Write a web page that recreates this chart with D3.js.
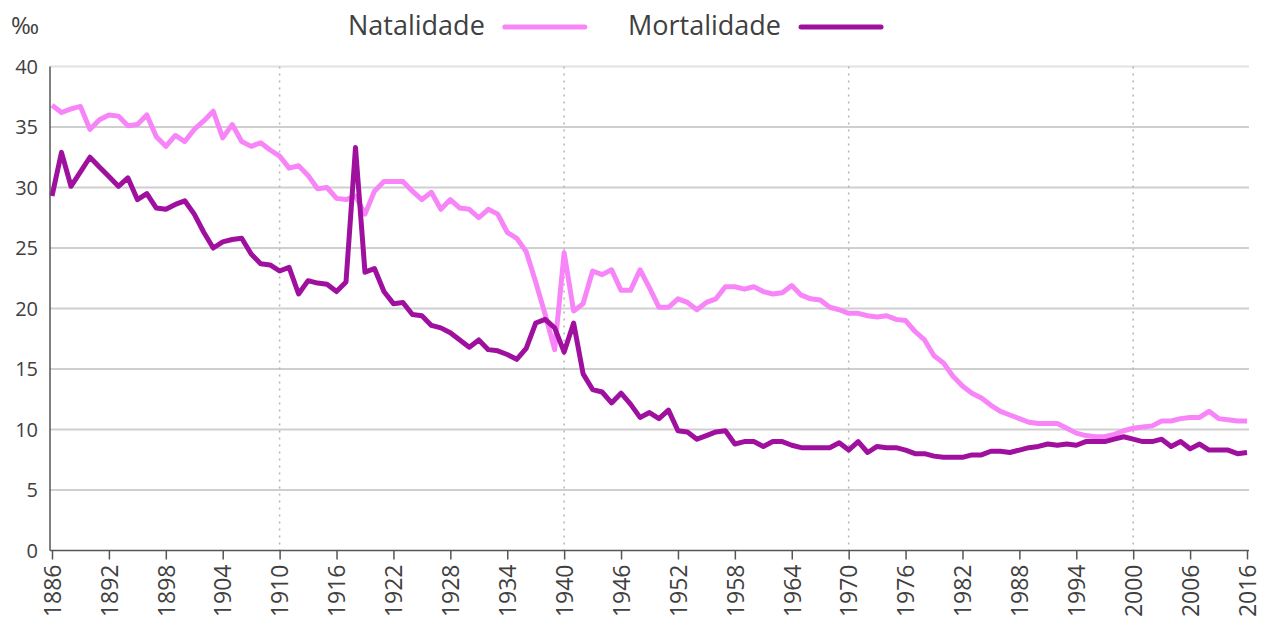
<!DOCTYPE html>
<meta charset="utf-8">
<style>
body { margin: 0; background: #fff; }
svg { font-family: "Open Sans", "Noto Sans", sans-serif; }
.grid line { stroke: #cfcfcf; stroke-width: 2; }
.vgrid line { stroke: #b5b5b5; stroke-width: 1.5; stroke-dasharray: 2 5; }
.lbl { fill: #404040; }
</style>
<svg id="chart" width="1262" height="627"></svg>
<script src="https://cdnjs.cloudflare.com/ajax/libs/d3/7.8.5/d3.min.js"></script>
<script>
// years shown on the axis (last point is 2016)
var years = d3.range(1886, 2012).concat([2016]);
var tickYears = [1886, 1892, 1898, 1904, 1910, 1916, 1922, 1928, 1934, 1940, 1946, 1952,
  1958, 1964, 1970, 1976, 1982, 1988, 1994, 2000, 2006, 2016];
var dottedYears = [1910, 1940, 1970, 2000];
var yTicks = [0, 5, 10, 15, 20, 25, 30, 35, 40];

// per mille
var natalidade = [
  36.8, 36.2, 36.5, 36.7, 34.8, 35.6, 36.0, 35.9, 35.1, 35.2, 36.0, 34.2, 33.4, 34.3, 33.8,
  34.8, 35.5, 36.3, 34.1, 35.2, 33.8, 33.4, 33.7, 33.1, 32.6, 31.6, 31.8,
  31.0, 29.9, 30.0, 29.1, 29.0, 29.3, 27.8, 29.7, 30.5, 30.5, 30.5, 29.7, 29.0, 29.6,
  28.2, 29.0, 28.3, 28.2, 27.5, 28.2, 27.8, 26.3, 25.8, 24.7, 22.2, 19.5, 16.6, 24.6,
  19.8, 20.4, 23.1, 22.8, 23.2, 21.5, 21.5, 23.2, 21.7, 20.1, 20.1, 20.8, 20.5, 19.9,
  20.5, 20.8, 21.8, 21.8, 21.6, 21.8, 21.4, 21.2, 21.3, 21.9, 21.1, 20.8, 20.7, 20.1,
  19.9, 19.6, 19.6, 19.4, 19.3, 19.4, 19.1, 19.0, 18.1, 17.4, 16.1, 15.5, 14.4, 13.6,
  13.0, 12.6, 12.0, 11.5, 11.2, 10.9, 10.6, 10.5, 10.5, 10.5, 10.1, 9.7, 9.5, 9.4, 9.4,
  9.6, 9.9, 10.1, 10.2, 10.3, 10.7, 10.7, 10.9, 11.0, 11.0, 11.5, 10.9, 10.8, 10.7, 10.7
];
var mortalidade = [
  29.3, 32.9, 30.1, 31.3, 32.5, 31.7, 30.9, 30.1, 30.8, 29.0, 29.5, 28.3, 28.2, 28.6, 28.9,
  27.8, 26.3, 25.0, 25.5, 25.7, 25.8, 24.5, 23.7, 23.6, 23.1, 23.4, 21.2,
  22.3, 22.1, 22.0, 21.4, 22.2, 33.3, 23.0, 23.3, 21.4, 20.4, 20.5, 19.5, 19.4, 18.6,
  18.4, 18.0, 17.4, 16.8, 17.4, 16.6, 16.5, 16.2, 15.8, 16.7, 18.8, 19.1, 18.4, 16.4,
  18.8, 14.6, 13.3, 13.1, 12.2, 13.0, 12.1, 11.0, 11.4, 10.9, 11.6, 9.9, 9.8, 9.2,
  9.5, 9.8, 9.9, 8.8, 9.0, 9.0, 8.6, 9.0, 9.0, 8.7, 8.5, 8.5, 8.5, 8.5,
  8.9, 8.3, 9.0, 8.1, 8.6, 8.5, 8.5, 8.3, 8.0, 8.0, 7.8, 7.7, 7.7, 7.7, 7.9, 7.9,
  8.2, 8.2, 8.1, 8.3, 8.5, 8.6, 8.8, 8.7, 8.8, 8.7, 9.0, 9.0, 9.0, 9.2, 9.4, 9.2,
  9.0, 9.0, 9.2, 8.6, 9.0, 8.4, 8.8, 8.3, 8.3, 8.3, 8.0, 8.1
];

var series = [
  { name: "Natalidade", values: natalidade, color: "#f785f8" },
  { name: "Mortalidade", values: mortalidade, color: "#a0109f" }
];

(function () {
  var svg = d3.select("#chart");
  var pLeft = 50, pRight = 1249, pTop = 66.5, pBottom = 550.5;

  var x = d3.scalePoint().domain(years).range([52, 1247]);
  var y = d3.scaleLinear().domain([0, 40]).range([pBottom, pTop]);

  // horizontal grid
  svg.append("g").attr("class", "grid")
    .selectAll("line").data(yTicks.filter(function (d) { return d > 0; })).enter().append("line")
    .attr("x1", pLeft).attr("x2", pRight)
    .attr("y1", function (d) { return y(d); }).attr("y2", function (d) { return y(d); })
    .style("stroke", function (d) { return d == 40 ? "#e2e2e2" : null; });

  // dotted verticals
  svg.append("g").attr("class", "vgrid")
    .selectAll("line").data(dottedYears).enter().append("line")
    .attr("x1", function (d) { return x(d); }).attr("x2", function (d) { return x(d); })
    .attr("y1", pTop).attr("y2", pBottom);

  // y labels
  svg.append("g").selectAll("text").data(yTicks).enter().append("text")
    .attr("class", "lbl")
    .attr("x", 38).attr("y", function (d) { return y(d) + 7; })
    .attr("text-anchor", "end").style("font-size", "20px")
    .text(function (d) { return d; });

  svg.append("text").attr("class", "lbl")
    .attr("x", 11).attr("y", 34).style("font-size", "24px").text("‰");

  // lines
  var line = d3.line()
    .x(function (d, i) { return x(years[i]); })
    .y(function (d) { return y(d); });

  svg.append("g").selectAll("path").data(series).enter().append("path")
    .attr("d", function (s) { return line(s.values); })
    .attr("fill", "none")
    .attr("stroke", function (s) { return s.color; })
    .attr("stroke-width", 5)
    .attr("stroke-linejoin", "round");

  // axis lines
  svg.append("line").attr("x1", pLeft).attr("x2", pLeft).attr("y1", pTop).attr("y2", pBottom)
    .attr("stroke", "#555").attr("stroke-width", 1.5);

  var xAxis = d3.axisBottom(x).tickValues(tickYears).tickSize(9).tickSizeOuter(0);
  var gx = svg.append("g").attr("transform", "translate(0," + pBottom + ")").call(xAxis);
  gx.attr("font-family", null).attr("font-size", null);
  gx.select(".domain").attr("d", "M" + pLeft + ",0H" + pRight).attr("stroke", "#555").attr("stroke-width", 1.5);
  gx.selectAll(".tick line").attr("stroke", "#555").attr("stroke-width", 1.5);
  gx.selectAll(".tick text")
    .attr("class", "lbl")
    .attr("fill", null)
    .style("font-size", "23px")
    .attr("transform", "rotate(-90)")
    .attr("text-anchor", "end")
    .attr("x", -14).attr("y", 0).attr("dy", "0.36em");

  // legend
  var legend = svg.append("g");
  var lx = [348, 628];
  series.forEach(function (s, i) {
    var t = legend.append("text").attr("class", "lbl")
      .attr("x", lx[i]).attr("y", 35).style("font-size", "27px").text(s.name);
    var w = t.node().getComputedTextLength();
    legend.append("line")
      .attr("x1", lx[i] + w + 20).attr("x2", lx[i] + w + 100)
      .attr("y1", 27).attr("y2", 27)
      .attr("stroke", s.color).attr("stroke-width", 5).attr("stroke-linecap", "round");
  });
})();
</script>
